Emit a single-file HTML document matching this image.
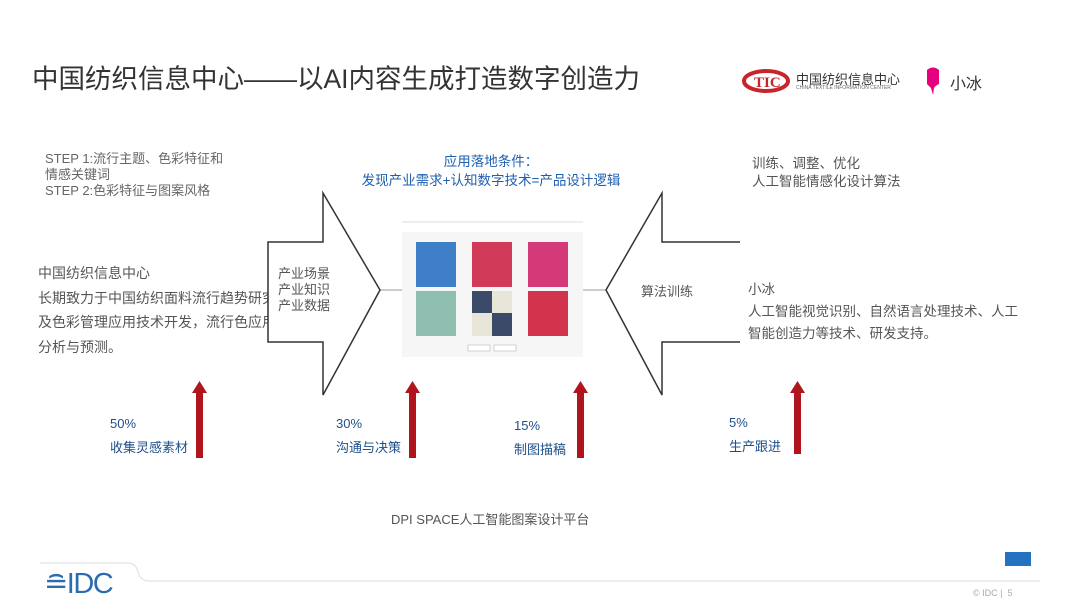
<!DOCTYPE html>
<html><head><meta charset="utf-8"><style>
body{margin:0;width:1080px;height:607px;background:#fff;position:relative;overflow:hidden;font-family:"Liberation Sans","Noto Sans CJK SC",sans-serif;color:#555}
.a{position:absolute;white-space:nowrap}
</style></head><body>
<div class="a" style="left:32px;top:57px;font-size:26.5px;color:#333">中国纺织信息中心——以AI内容生成打造数字创造力</div>
<svg class="a" style="left:742px;top:66px" width="50" height="30"><ellipse cx="24" cy="15" rx="22" ry="10" fill="none" stroke="#c8252b" stroke-width="4"/><text x="12" y="21" font-size="15" font-weight="bold" fill="#c8252b" font-family="Liberation Serif">TIC</text></svg>
<div class="a" style="left:796px;top:69px;font-size:13px;color:#333">中国纺织信息中心</div>
<div class="a" style="left:796px;top:85px;font-size:5px;color:#666">CHINA TEXTILE INFORMATION CENTER</div>
<svg class="a" style="left:924px;top:66px" width="18" height="30"><path d="M3 4 Q9 -1 15 4 L15 18 Q11 20 10 22 L9 29 L7 22 Q4 19 3 18Z" fill="#e6007e"/></svg>
<div class="a" style="left:950px;top:70px;font-size:16px;color:#333">小冰</div>

<div class="a" style="left:45px;top:151px;font-size:13px;line-height:16px;color:#666">STEP 1:流行主题、色彩特征和<br>情感关键词<br>STEP 2:色彩特征与图案风格</div>
<div class="a" style="left:38px;top:261px;font-size:14px;line-height:24.5px;color:#555">中国纺织信息中心<br>长期致力于中国纺织面料流行趋势研究<br>及色彩管理应用技术开发，流行色应用<br>分析与预测。</div>
<div class="a" style="left:351px;top:152px;width:280px;text-align:center;font-size:13.5px;line-height:19px;color:#1f5fb0">应用落地条件：<br>发现产业需求+认知数字技术=产品设计逻辑</div>
<div class="a" style="left:752px;top:155px;font-size:13.5px;line-height:18px;color:#555">训练、调整、优化<br>人工智能情感化设计算法</div>
<div class="a" style="left:748px;top:279px;font-size:13.5px;line-height:22px;color:#555">小冰<br>人工智能视觉识别、自然语言处理技术、人工<br>智能创造力等技术、研发支持。</div>

<svg class="a" style="left:0;top:0" width="1080" height="607">
<line x1="380" y1="290" x2="402" y2="290" stroke="#999"/>
<line x1="583" y1="290" x2="606" y2="290" stroke="#999"/>
<path d="M268 242 H323 V193 L380 290 L323 395 V342 H268Z" fill="#fff" stroke="#333" stroke-width="1.5"/>
<path d="M740 242 H662 V193 L606 290 L662 395 V342 H740" fill="#fff" stroke="#333" stroke-width="1.5"/>
<rect x="402" y="222" width="181" height="135" fill="#f6f6f6"/>
<rect x="402" y="222" width="181" height="10" fill="#fff"/>
<line x1="402" y1="222" x2="583" y2="222" stroke="#ddd"/>
<rect x="416" y="242" width="40" height="45" fill="#3f7fc8"/>
<rect x="472" y="242" width="40" height="45" fill="#d23a5a"/>
<rect x="528" y="242" width="40" height="45" fill="#d53a78"/>
<rect x="416" y="291" width="40" height="45" fill="#8fbfb0"/>
<rect x="472" y="291" width="40" height="45" fill="#e8e6d8"/>
<rect x="472" y="291" width="20" height="22" fill="#3a4a68"/><rect x="492" y="313" width="20" height="23" fill="#3a4a68"/>
<rect x="528" y="291" width="40" height="45" fill="#d2344e"/>
<rect x="468" y="345" width="22" height="6" fill="#fff" stroke="#aaa" stroke-width=".5"/>
<rect x="494" y="345" width="22" height="6" fill="#fff" stroke="#aaa" stroke-width=".5"/>
<g fill="#b0141c">
<rect x="196" y="392" width="7" height="66"/><path d="M192 393 L199.5 381 L207 393Z"/>
<rect x="409" y="392" width="7" height="66"/><path d="M405 393 L412.5 381 L420 393Z"/>
<rect x="577" y="392" width="7" height="66"/><path d="M573 393 L580.5 381 L588 393Z"/>
<rect x="794" y="392" width="7" height="62"/><path d="M790 393 L797.5 381 L805 393Z"/>
</g>
<rect x="1005" y="552" width="26" height="14" fill="#2472c0"/>
<path d="M40 563 H128 Q136 563 138 572 Q140 581 150 581 H1040" fill="none" stroke="#ddd"/>
</svg>
<div class="a" style="left:278px;top:266px;font-size:13px;line-height:16px;color:#555">产业场景<br>产业知识<br>产业数据</div>
<div class="a" style="left:641px;top:281px;font-size:13px;color:#555">算法训练</div>

<div class="a" style="left:110px;top:412px;font-size:13px;line-height:24px;color:#1f4f8a">50%<br>收集灵感素材</div>
<div class="a" style="left:336px;top:412px;font-size:13px;line-height:24px;color:#1f4f8a">30%<br>沟通与决策</div>
<div class="a" style="left:514px;top:414px;font-size:13px;line-height:24px;color:#1f4f8a">15%<br>制图描稿</div>
<div class="a" style="left:729px;top:411px;font-size:13px;line-height:24px;color:#1f4f8a">5%<br>生产跟进</div>
<div class="a" style="left:391px;top:509px;font-size:13px;color:#555">DPI SPACE人工智能图案设计平台</div>
<div class="a" style="left:44px;top:566px;font-size:29px;color:#2b6cb0;letter-spacing:-1.5px">≘IDC</div>
<div class="a" style="left:973px;top:588px;font-size:9px;color:#aaa">© IDC | &nbsp;5</div>
</body></html>
